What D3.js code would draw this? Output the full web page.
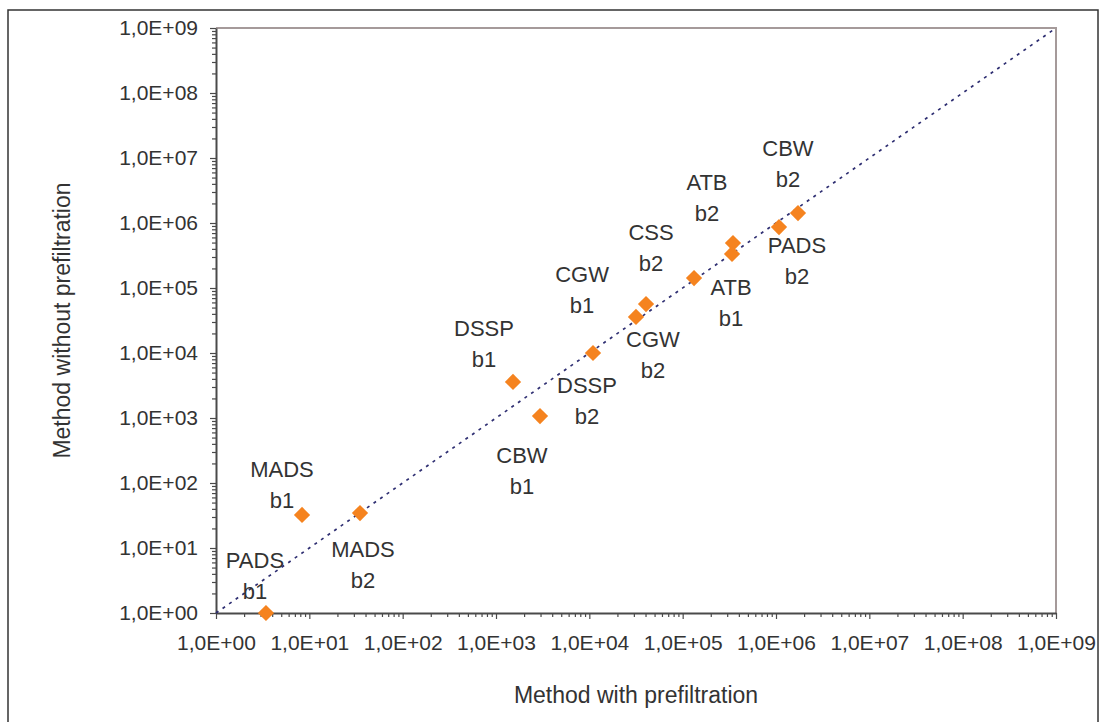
<!DOCTYPE html>
<html>
<head>
<meta charset="utf-8">
<script src="https://cdn.jsdelivr.net/npm/d3@7"></script>
<style>
  body { margin: 0; background: #fff; }
  svg { display: block; font-family: "Liberation Sans", Arial, sans-serif; }
</style>
</head>
<body>
<div id="chart"></div>
<script>
// ── Data: method with vs without prefiltration (log-log) ────────
const names    = ["PADS", "MADS", "MADS", "DSSP", "CBW", "DSSP", "CGW", "CGW", "CSS", "ATB", "ATB", "PADS", "CBW"];
const variants = ["b1", "b1", "b2", "b1", "b1", "b2", "b1", "b2", "b2", "b1", "b2", "b2", "b2"];
const withPre    = [3.43, 8.35, 34.9, 1521, 2960, 10950, 40500, 31600, 132400, 338000, 346000, 1077000, 1720000];
const withoutPre = [1.0, 32.2, 34.5, 3580, 1073, 10000, 56700, 35800, 142500, 333600, 492000, 867000, 1425000];
// label placement relative to its point (px): centre x, first baseline
const labelDx = [-11, -20, 3, -29, -18, -6, -64, 17, -43, -1, -26, 18, -10];
const labelDy = [-45, -38, 44, -46, 47, 40, -22, 30, -38, 41, -53, 26, -57];

const exponents = d3.range(0, 10);   // 1E0 .. 1E9

function drawChart() {
    const width = 1102, height = 722;
    const m = { left: 216, right: 46, top: 28, bottom: 109 };

    const svg = d3.select("#chart").append("svg")
        .attr("width", width).attr("height", height);

    // outer chart border
    svg.append("rect").attr("x", 8).attr("y", 10)
        .attr("width", 1090).attr("height", 730)
        .attr("fill", "none").attr("stroke", "#333").attr("stroke-width", 1.5);

    const x = d3.scaleLog().domain([1, 1e9]).range([m.left, width - m.right]);
    const y = d3.scaleLog().domain([1, 1e9]).range([height - m.bottom, m.top]);

    const majors = exponents.map(e => Math.pow(10, e));
    const minors = [];
    exponents.slice(0, -1).forEach(e => {
        for (let k = 2; k <= 9; k++) minors.push(k * Math.pow(10, e));
    });
    const fmt = v => "1,0E+" + String(Math.round(Math.log10(v))).padStart(2, "0");

    // plot frame (top / right)
    svg.append("path")
        .attr("d", `M${x(1)},${y(1e9)}H${x(1e9)}V${y(1)}`)
        .attr("fill", "none").attr("stroke", "#a59a9a").attr("stroke-width", 2);

    // minor ticks
    svg.append("g").attr("transform", `translate(0,${y(1)})`)
        .call(d3.axisBottom(x).tickValues(minors).tickSize(4).tickSizeOuter(0).tickFormat(""))
        .call(g => g.select(".domain").remove());
    svg.append("g").attr("transform", `translate(${x(1)},0)`)
        .call(d3.axisLeft(y).tickValues(minors).tickSize(4).tickSizeOuter(0).tickFormat(""))
        .call(g => g.select(".domain").remove());

    // major ticks + labels
    const xAxis = svg.append("g").attr("transform", `translate(0,${y(1)})`)
        .call(d3.axisBottom(x).tickValues(majors).tickSize(6).tickSizeOuter(0).tickFormat(fmt).tickPadding(16));
    const yAxis = svg.append("g").attr("transform", `translate(${x(1)},0)`)
        .call(d3.axisLeft(y).tickValues(majors).tickSize(6).tickSizeOuter(0).tickFormat(fmt).tickPadding(12));

    [xAxis, yAxis].forEach(a => {
        a.select(".domain").attr("stroke", "#4a4a4a").attr("stroke-width", 2);
        a.selectAll(".tick text").style("font-size", "21px").attr("fill", "#333");
    });
    svg.selectAll(".tick line").attr("stroke", "#4a4a4a").attr("stroke-width", 1.2);

    // diagonal y = x
    svg.append("line")
        .attr("x1", x(1)).attr("y1", y(1))
        .attr("x2", x(1e9)).attr("y2", y(1e9))
        .attr("stroke", "#2f2f72").attr("stroke-width", 1.7)
        .attr("stroke-dasharray", "3,5");

    const pts = names.map((n, i) => ({
        name: n, variant: variants[i],
        px: x(withPre[i]), py: y(withoutPre[i]),
        dx: labelDx[i], dy: labelDy[i]
    }));

    // diamond markers
    svg.append("g").selectAll("path.pt")
        .data(pts).join("path").attr("class", "pt")
        .attr("d", d3.symbol().type(d3.symbolSquare).size(132))
        .attr("transform", d => `translate(${d.px},${d.py}) rotate(45)`)
        .attr("fill", "#f5831f");

    // point labels (two lines)
    const lbl = svg.append("g").selectAll("text.lbl")
        .data(pts).join("text").attr("class", "lbl")
        .attr("text-anchor", "middle")
        .style("font-size", "22px").attr("fill", "#333");
    lbl.append("tspan")
        .attr("x", d => d.px + d.dx).attr("y", d => d.py + d.dy)
        .text(d => d.name);
    lbl.append("tspan")
        .attr("x", d => d.px + d.dx).attr("y", d => d.py + d.dy + 31)
        .text(d => d.variant);

    // axis titles
    svg.append("text")
        .attr("x", (x(1) + x(1e9)) / 2).attr("y", 703)
        .attr("text-anchor", "middle")
        .style("font-size", "23px").attr("fill", "#333")
        .text("Method with prefiltration");
    svg.append("text")
        .attr("transform", `translate(70,${(y(1) + y(1e9)) / 2}) rotate(-90)`)
        .attr("text-anchor", "middle")
        .style("font-size", "23px").attr("fill", "#333")
        .text("Method without prefiltration");
}

drawChart();
</script>
</body>
</html>
